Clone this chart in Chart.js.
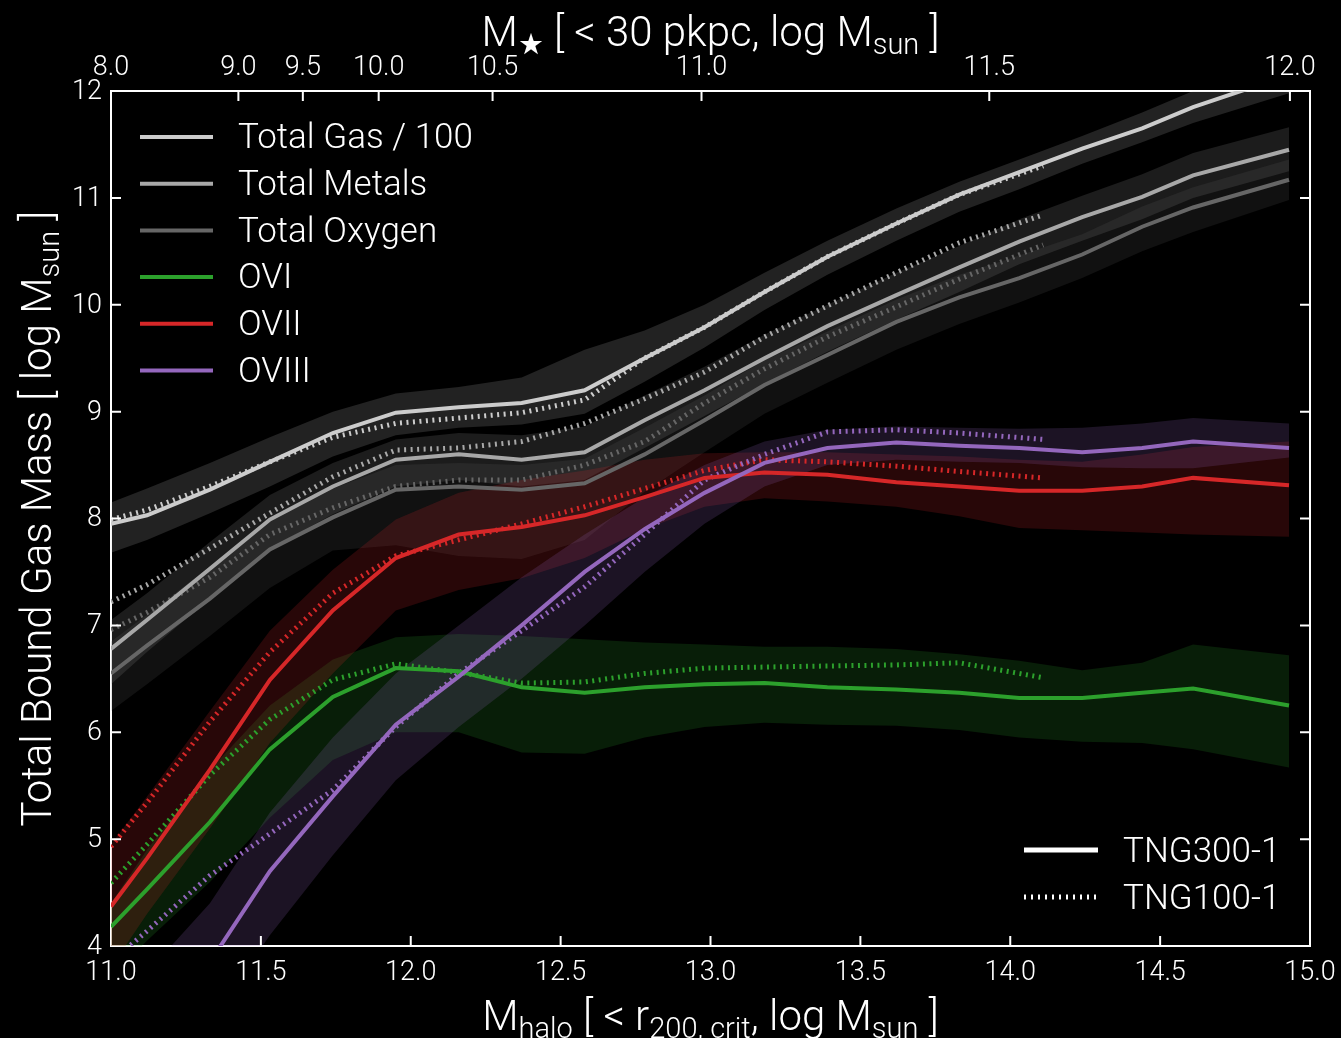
<!DOCTYPE html>
<html>
<head>
<meta charset="utf-8">
<script src="https://cdn.jsdelivr.net/npm/chart.js@4.4.1/dist/chart.umd.min.js"></script>
<style>
  html, body { margin: 0; padding: 0; background: #000; }
</style>
</head>
<body>
<canvas id="myChart" width="1341" height="1038"></canvas>
<script>
const ctx = document.getElementById("myChart");

// halo mass bin centres
const haloBins300 = [11.0, 11.12, 11.33, 11.53, 11.74, 11.95, 12.16, 12.37, 12.58, 12.78, 12.98, 13.18, 13.39, 13.62, 13.83, 14.03, 14.24, 14.44, 14.61, 14.93];
const haloBins100 = [11.0, 11.12, 11.33, 11.53, 11.74, 11.95, 12.16, 12.37, 12.58, 12.78, 12.98, 13.18, 13.39, 13.62, 13.83, 14.11];

// TNG300-1 medians + percentile bands, TNG100-1 medians
const gas300 = [7.95, 8.03, 8.27, 8.53, 8.80, 8.99, 9.04, 9.08, 9.20, 9.50, 9.79, 10.12, 10.45, 10.76, 11.03, 11.24, 11.46, 11.65, 11.85, 12.15];
const gasHi = [8.15, 8.28, 8.52, 8.76, 9.00, 9.17, 9.23, 9.32, 9.58, 9.76, 10.00, 10.30, 10.60, 10.90, 11.15, 11.36, 11.58, 11.80, 12.00, 12.30];
const gasLo = [7.68, 7.80, 8.05, 8.30, 8.58, 8.78, 8.85, 8.88, 8.98, 9.28, 9.60, 9.95, 10.28, 10.60, 10.87, 11.08, 11.32, 11.52, 11.70, 11.98];
const gas100 = [7.99, 8.08, 8.30, 8.53, 8.76, 8.89, 8.94, 8.99, 9.11, 9.50, 9.79, 10.12, 10.45, 10.76, 11.03, 11.30];

const metals300 = [6.78, 7.05, 7.53, 7.99, 8.30, 8.55, 8.60, 8.55, 8.62, 8.92, 9.20, 9.50, 9.80, 10.09, 10.35, 10.59, 10.82, 11.01, 11.21, 11.45];
const metalsHi = [7.05, 7.30, 7.78, 8.22, 8.52, 8.74, 8.80, 8.78, 8.86, 9.15, 9.42, 9.72, 10.00, 10.30, 10.55, 10.80, 11.02, 11.22, 11.42, 11.66];
const metalsLo = [6.45, 6.75, 7.25, 7.72, 8.04, 8.30, 8.36, 8.30, 8.36, 8.66, 8.96, 9.26, 9.56, 9.86, 10.12, 10.38, 10.60, 10.80, 11.00, 11.25];
const metals100 = [7.22, 7.38, 7.72, 8.05, 8.39, 8.64, 8.66, 8.72, 8.89, 9.12, 9.37, 9.70, 9.99, 10.30, 10.58, 10.84];

const oxygen300 = [6.55, 6.81, 7.25, 7.71, 8.01, 8.27, 8.30, 8.27, 8.33, 8.60, 8.92, 9.25, 9.53, 9.84, 10.07, 10.25, 10.47, 10.73, 10.91, 11.17];
const oxygenHi = [6.85, 7.10, 7.55, 8.00, 8.28, 8.50, 8.52, 8.50, 8.56, 8.85, 9.15, 9.48, 9.75, 10.05, 10.28, 10.46, 10.66, 10.92, 11.10, 11.36];
const oxygenLo = [6.20, 6.45, 6.90, 7.35, 7.70, 7.75, 7.65, 7.62, 7.80, 8.25, 8.62, 8.98, 9.27, 9.58, 9.82, 10.02, 10.25, 10.50, 10.68, 10.98];
const oxygen100 = [6.96, 7.12, 7.45, 7.85, 8.10, 8.30, 8.36, 8.36, 8.50, 8.72, 9.08, 9.40, 9.70, 9.98, 10.24, 10.56];

const ovi300 = [4.18, 4.53, 5.16, 5.84, 6.33, 6.60, 6.57, 6.42, 6.37, 6.42, 6.45, 6.46, 6.42, 6.40, 6.37, 6.32, 6.32, 6.37, 6.41, 6.25];
const oviHi = [4.40, 4.90, 5.65, 6.25, 6.68, 6.89, 6.92, 6.90, 6.87, 6.84, 6.82, 6.80, 6.80, 6.78, 6.73, 6.67, 6.58, 6.65, 6.82, 6.72];
const oviLo = [3.70, 4.05, 4.60, 5.20, 5.74, 6.00, 6.00, 5.81, 5.80, 5.95, 6.05, 6.09, 6.07, 6.06, 6.02, 5.95, 5.91, 5.90, 5.84, 5.67];
const ovi100 = [4.59, 4.95, 5.60, 6.12, 6.49, 6.64, 6.56, 6.46, 6.47, 6.55, 6.60, 6.61, 6.62, 6.63, 6.65, 6.51];

const ovii300 = [4.37, 4.82, 5.65, 6.49, 7.14, 7.63, 7.85, 7.92, 8.03, 8.20, 8.38, 8.43, 8.41, 8.34, 8.30, 8.26, 8.26, 8.30, 8.38, 8.31];
const oviiHi = [4.95, 5.40, 6.20, 6.95, 7.52, 7.99, 8.24, 8.36, 8.45, 8.55, 8.61, 8.62, 8.62, 8.60, 8.58, 8.55, 8.53, 8.60, 8.67, 8.72];
const oviiLo = [3.80, 4.30, 5.10, 5.90, 6.55, 7.14, 7.33, 7.44, 7.63, 7.90, 8.11, 8.19, 8.16, 8.11, 8.02, 7.91, 7.89, 7.87, 7.85, 7.83];
const ovii100 = [4.93, 5.34, 6.10, 6.75, 7.30, 7.65, 7.80, 7.95, 8.11, 8.28, 8.45, 8.55, 8.53, 8.49, 8.44, 8.38];

const oviii300 = [2.85, 3.20, 3.85, 4.70, 5.40, 6.07, 6.52, 7.00, 7.50, 7.90, 8.24, 8.52, 8.66, 8.71, 8.68, 8.66, 8.62, 8.66, 8.72, 8.66];
const oviiiHi = [3.40, 3.75, 4.40, 5.25, 5.95, 6.55, 7.00, 7.45, 7.85, 8.20, 8.50, 8.72, 8.83, 8.86, 8.85, 8.84, 8.85, 8.89, 8.94, 8.89];
const oviiiLo = [2.30, 2.65, 3.30, 4.10, 4.85, 5.55, 6.05, 6.50, 7.00, 7.50, 7.95, 8.30, 8.50, 8.55, 8.53, 8.52, 8.48, 8.47, 8.47, 8.57];
const oviii100 = [3.85, 4.14, 4.66, 5.05, 5.46, 6.05, 6.55, 6.95, 7.36, 7.85, 8.36, 8.60, 8.81, 8.83, 8.80, 8.74];

const speciesNames = ["Total Gas / 100", "Total Metals", "Total Oxygen", "OVI", "OVII", "OVIII"];
const speciesColors = ["#cccccc", "#a8a8a8", "#666666", "#2ca02c", "#d62728", "#9467bd"];
const bandColors = ["rgba(204,204,204,0.17)", "rgba(168,168,168,0.17)", "rgba(102,102,102,0.17)",
                    "rgba(44,160,44,0.19)", "rgba(214,39,40,0.19)", "rgba(148,103,189,0.19)"];

// axes
const haloTicks = [11.0, 11.5, 12.0, 12.5, 13.0, 13.5, 14.0, 14.5, 15.0];
const massTicks = [4, 5, 6, 7, 8, 9, 10, 11, 12];
const stellarTickLabels = ["8.0", "9.0", "9.5", "10.0", "10.5", "11.0", "11.5", "12.0"];
const stellarTickHalo = [11.0, 11.425, 11.64, 11.893, 12.273, 12.97, 13.93, 14.933];

const simNames = ["TNG300-1", "TNG100-1"];

const FONT = '"Roboto Light", Roboto, "DejaVu Sans", sans-serif';

var medians300 = [gas300, metals300, oxygen300, ovi300, ovii300, oviii300];
var upper300 = [gasHi, metalsHi, oxygenHi, oviHi, oviiHi, oviiiHi];
var lower300 = [gasLo, metalsLo, oxygenLo, oviLo, oviiLo, oviiiLo];
var medians100 = [gas100, metals100, oxygen100, ovi100, ovii100, oviii100];

function toPoints(xs, ys) {
  return xs.map((x, i) => ({ x: x, y: ys[i] }));
}

var datasets = [];
speciesNames.forEach((name, i) => {
  // band: upper filled down to lower
  datasets.push({
    label: name + " hi",
    data: toPoints(haloBins300, upper300[i]),
    borderWidth: 0,
    pointRadius: 0,
    fill: "+1",
    backgroundColor: bandColors[i],
    order: 60 - i
  });
  datasets.push({
    label: name + " lo",
    data: toPoints(haloBins300, lower300[i]),
    borderWidth: 0,
    pointRadius: 0,
    fill: false,
    order: 60 - i
  });
  datasets.push({
    label: name + " TNG100",
    data: toPoints(haloBins100, medians100[i]),
    borderColor: speciesColors[i],
    borderWidth: 5,
    borderDash: [2, 4.5],
    borderCapStyle: "butt",
    pointRadius: 0,
    fill: false,
    order: 40 - i
  });
  datasets.push({
    label: name,
    data: toPoints(haloBins300, medians300[i]),
    borderColor: speciesColors[i],
    borderWidth: 4,
    pointRadius: 0,
    fill: false,
    order: 20 - i
  });
});

function richText(c, parts, x, y, size) {
  const big = "300 " + size + "px " + FONT;
  const small = "300 " + Math.round(size * 0.7) + "px " + FONT;
  let w = 0;
  parts.forEach(p => { c.font = p[1] ? small : big; w += c.measureText(p[0]).width; });
  let cx = x - w / 2;
  parts.forEach(p => {
    c.font = p[1] ? small : big;
    c.fillText(p[0], cx, y + (p[1] ? size * 0.18 : 0));
    cx += c.measureText(p[0]).width;
  });
}

// keep the plot box fixed, edge tick labels may overhang
function noPad(s) {
  s.paddingLeft = 0; s.paddingRight = 0;
  s.paddingTop = 0; s.paddingBottom = 0;
}

const blackBg = {
  id: "blackBg",
  beforeDraw(chart) {
    const c = chart.ctx;
    c.save();
    c.fillStyle = "#000";
    c.fillRect(0, 0, chart.width, chart.height);
    c.restore();
  }
};

const innerTicks = {
  id: "innerTicks",
  afterDraw(chart) {
    const c = chart.ctx;
    const a = chart.chartArea;
    const s = chart.scales;
    const len = 10;
    c.save();
    c.strokeStyle = "#fff";
    c.lineWidth = 2;
    c.beginPath();
    s.x.ticks.forEach(t => {
      const px = s.x.getPixelForValue(t.value);
      if (px <= a.left + 2 || px >= a.right - 2) return;
      c.moveTo(px, a.bottom); c.lineTo(px, a.bottom - len);
    });
    s.xTop.ticks.forEach(t => {
      const px = s.xTop.getPixelForValue(t.value);
      if (px <= a.left + 2 || px >= a.right - 2) return;
      c.moveTo(px, a.top); c.lineTo(px, a.top + len);
    });
    s.y.ticks.forEach(t => {
      const py = s.y.getPixelForValue(t.value);
      if (py <= a.top + 2 || py >= a.bottom - 2) return;
      c.moveTo(a.left, py); c.lineTo(a.left + len, py);
      c.moveTo(a.right, py); c.lineTo(a.right - len, py);
    });
    c.stroke();
    c.restore();
  }
};

const legendsAndTitles = {
  id: "legendsAndTitles",
  afterDraw(chart) {
    const c = chart.ctx;
    const a = chart.chartArea;
    c.save();
    c.fillStyle = "#fff";
    c.textBaseline = "alphabetic";
    c.textAlign = "left";

    // axis titles
    richText(c, [["M", false], ["halo", true], [" [ < r", false], ["200, crit", true], [", log M", false], ["sun", true], [" ]", false]],
      (a.left + a.right) / 2, 1030, 42);
    richText(c, [["M", false], ["\u2605", true], [" [ < 30 pkpc, log M", false], ["sun", true], [" ]", false]],
      (a.left + a.right) / 2, 46, 42);
    c.save();
    c.translate(51, (a.top + a.bottom) / 2);
    c.rotate(-Math.PI / 2);
    richText(c, [["Total Bound Gas Mass [ log M", false], ["sun", true], [" ]", false]], 0, 0, 42);
    c.restore();

    // species legend
    c.textBaseline = "middle";
    c.font = "300 35px " + FONT;
    speciesNames.forEach((name, i) => {
      const y = 137 + i * 46.7;
      c.strokeStyle = speciesColors[i];
      c.lineWidth = 4;
      c.setLineDash([]);
      c.beginPath();
      c.moveTo(140, y); c.lineTo(213, y);
      c.stroke();
      c.fillText(name, 238, y + 1);
    });

    // simulation legend
    simNames.forEach((name, i) => {
      const y = 850 + i * 47;
      c.strokeStyle = "#fff";
      c.beginPath();
      c.lineWidth = 5;
      c.setLineDash(i === 0 ? [] : [2, 5]);
      c.moveTo(1024, y); c.lineTo(1098, y);
      c.stroke();
      c.fillText(name, 1123, y + 2);
    });
    c.restore();
  }
};

const tickFont = { family: FONT, size: 27, weight: 300 };

const config = {
  type: "line",
  data: { datasets: datasets },
  options: {
    responsive: false,
    animation: false,
    events: [],
    layout: { padding: 0 },
    plugins: {
      legend: { display: false },
      tooltip: { enabled: false },
      title: { display: false }
    },
    elements: { line: { tension: 0 } },
    scales: {
      x: {
        type: "linear",
        position: "bottom",
        min: 11,
        max: 15,
        afterBuildTicks: (s) => { s.ticks = haloTicks.map(v => ({ value: v })); },
        afterFit: (s) => { s.height = 92; noPad(s); },
        ticks: {
          color: "#fff",
          font: tickFont,
          padding: 10,
          maxRotation: 0,
          autoSkip: false,
          callback: (v) => Number(v).toFixed(1)
        },
        grid: { drawOnChartArea: false, drawTicks: false, color: "#fff", lineWidth: 2 },
        border: { display: true, color: "#fff", width: 2 }
      },
      xTop: {
        type: "linear",
        position: "top",
        min: 11,
        max: 15,
        afterBuildTicks: (s) => { s.ticks = stellarTickHalo.map(v => ({ value: v })); },
        afterFit: (s) => { s.height = 91; noPad(s); },
        ticks: {
          color: "#fff",
          font: tickFont,
          padding: 8,
          maxRotation: 0,
          autoSkip: false,
          callback: (v, i) => stellarTickLabels[i]
        },
        grid: { drawOnChartArea: false, drawTicks: false, color: "#fff", lineWidth: 2 },
        border: { display: true, color: "#fff", width: 2 }
      },
      y: {
        type: "linear",
        position: "left",
        min: 4,
        max: 12,
        afterBuildTicks: (s) => { s.ticks = massTicks.map(v => ({ value: v })); },
        afterFit: (s) => { s.width = 111; noPad(s); },
        ticks: {
          color: "#fff",
          font: tickFont,
          padding: 9,
          autoSkip: false,
          callback: (v) => String(v)
        },
        grid: { drawOnChartArea: false, drawTicks: false, color: "#fff", lineWidth: 2 },
        border: { display: true, color: "#fff", width: 2 }
      },
      yRight: {
        type: "linear",
        position: "right",
        min: 4,
        max: 12,
        afterFit: (s) => { s.width = 31; noPad(s); },
        ticks: { display: false },
        grid: { drawOnChartArea: false, drawTicks: false, color: "#fff", lineWidth: 2 },
        border: { display: true, color: "#fff", width: 2 }
      }
    }
  },
  plugins: [blackBg, innerTicks, legendsAndTitles]
};

const chart = new Chart(ctx, config);
</script>
</body>
</html>
